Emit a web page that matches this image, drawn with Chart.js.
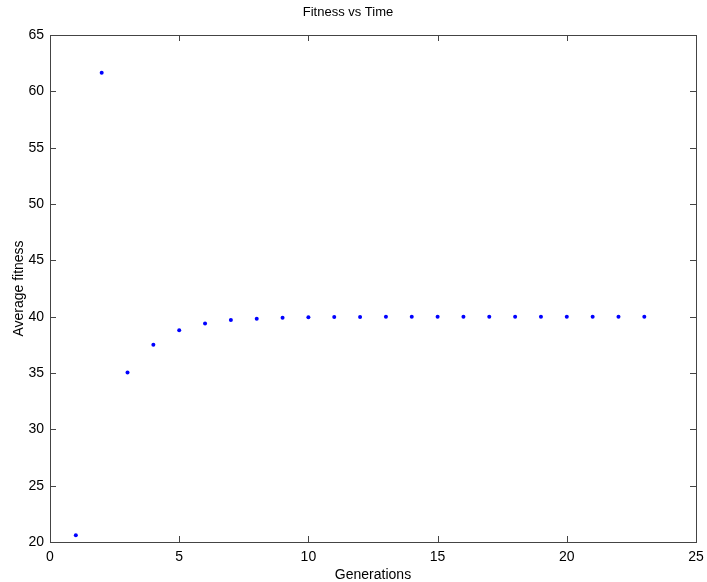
<!DOCTYPE html>
<html>
<head>
<meta charset="utf-8">
<script src="https://cdn.jsdelivr.net/npm/chart.js@4/dist/chart.umd.min.js"></script>
<style>
  body { margin: 0; background: #fff; }
</style>
</head>
<body>
<canvas id="fitnessChart" width="707" height="582"></canvas>
<script>
const generations = [1, 2, 3, 4, 5, 6, 7, 8, 9, 10, 11, 12, 13, 14, 15, 16, 17, 18, 19, 20, 21, 22, 23];
const avgFitness = [20.6, 61.65, 35.05, 37.5, 38.8, 39.4, 39.7, 39.82, 39.9, 39.94, 39.96, 39.98, 39.99, 40, 40, 40, 40, 40, 40, 40, 40, 40, 40];
const xTicks = [0, 5, 10, 15, 20, 25];
const yTicks = [20, 25, 30, 35, 40, 45, 50, 55, 60, 65];

// matlab style box with ticks pointing inward on all four sides
const boxPlugin = {
    id: 'boxPlugin',
    afterDraw(chart) {
        const ctx = chart.ctx;
        const a = chart.chartArea;
        const xs = chart.scales.x, ys = chart.scales.y;
        const len = 6;
        ctx.save();
        ctx.strokeStyle = '#444';
        ctx.lineWidth = 1;
        ctx.beginPath();
        xTicks.forEach(v => {
            const px = Math.round(xs.getPixelForValue(v)) + 0.5;
            ctx.moveTo(px, a.bottom); ctx.lineTo(px, a.bottom - len);
            ctx.moveTo(px, a.top); ctx.lineTo(px, a.top + len);
        });
        yTicks.forEach(v => {
            const py = Math.round(ys.getPixelForValue(v)) + 0.5;
            ctx.moveTo(a.left, py); ctx.lineTo(a.left + len, py);
            ctx.moveTo(a.right, py); ctx.lineTo(a.right - len, py);
        });
        ctx.stroke();
        ctx.strokeRect(Math.round(a.left) + 0.5, Math.round(a.top) + 0.5,
            Math.round(a.right - a.left), Math.round(a.bottom - a.top));
        ctx.restore();
    }
};

const fontFam = '"Liberation Sans", Arial, sans-serif';

new Chart(document.getElementById('fitnessChart'), {
    type: 'scatter',
    data: {
        datasets: [{
            label: 'Average fitness',
            data: generations.map((g, i) => ({ x: g, y: avgFitness[i] })),
            backgroundColor: '#0000ff',
            borderColor: '#0000ff',
            pointRadius: 2,
            pointBorderWidth: 0
        }]
    },
    options: {
        responsive: false,
        animation: false,
        layout: { padding: { left: 0, right: 11, top: 0, bottom: 0 } },
        plugins: {
            legend: { display: false },
            tooltip: { enabled: false },
            title: {
                display: true,
                text: 'Fitness vs Time',
                color: '#000',
                font: { family: fontFam, size: 13, weight: 'normal' },
                padding: { top: 5, bottom: 14.4 }
            }
        },
        scales: {
            x: {
                type: 'linear',
                min: 0,
                max: 25,
                afterFit: s => { s.height = 40; s.paddingRight = 0; s.paddingLeft = 0; },
                afterBuildTicks: s => { s.ticks = xTicks.map(v => ({ value: v })); },
                grid: { display: false, drawTicks: false },
                border: { display: false },
                ticks: { color: '#000', padding: 7, font: { family: fontFam, size: 14 } },
                title: {
                    display: true,
                    text: 'Generations',
                    color: '#000',
                    font: { family: fontFam, size: 14 },
                    padding: { top: 0, bottom: -2 }
                }
            },
            y: {
                type: 'linear',
                min: 20,
                max: 65,
                afterFit: s => { s.width = 50; },
                afterBuildTicks: s => { s.ticks = yTicks.map(v => ({ value: v })); },
                grid: { display: false, drawTicks: false },
                border: { display: false },
                ticks: { color: '#000', padding: 6, font: { family: fontFam, size: 14 } },
                title: {
                    display: true,
                    text: 'Average fitness',
                    color: '#000',
                    font: { family: fontFam, size: 14 },
                    padding: { top: 11, bottom: 0 }
                }
            }
        }
    },
    plugins: [boxPlugin]
});
</script>
</body>
</html>
